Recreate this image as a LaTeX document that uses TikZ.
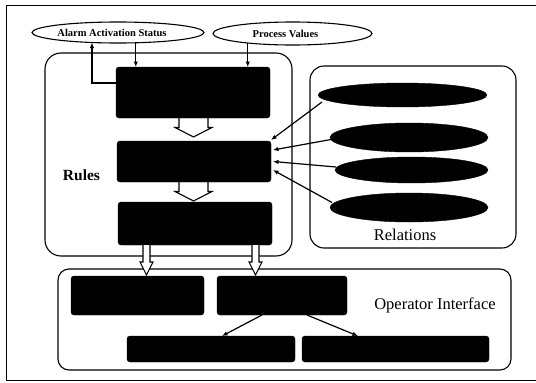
\documentclass[tikz,border=0pt]{standalone}
\usepackage{fontspec}
\setmainfont{Liberation Serif}
\usetikzlibrary{shapes.geometric,arrows.meta,calc}
\newcommand\hollowarr[6]{%
  \draw[hollow] ({#1-#5},#2) -- ({#1-#5},#3) -- ({#1-#6},#3) -- (#1,#4) -- ({#1+#6},#3) -- ({#1+#5},#3) -- ({#1+#5},#2);}
\begin{document}
\begin{tikzpicture}[x=1pt,y=-1pt,
  blk/.style={draw=black, fill=black, rounded corners=3pt, inner sep=0pt, outer sep=0pt},
  grp/.style={draw, line width=1.1pt, inner sep=0pt, outer sep=0pt},
  conn/.style={line width=1.2pt, -{Latex[length=5.5pt,width=4.5pt]}},
  oval/.style={ellipse, draw, line width=1.1pt, inner sep=0pt, outer sep=0pt},
  boval/.style={ellipse, draw=black, fill=black, inner sep=0pt, outer sep=0pt},
  hollow/.style={draw, fill=white, line width=1.1pt, line join=miter},
  small/.style={font=\fontsize{10.5}{12}\selectfont\bfseries},
  big/.style={font=\fontsize{16.5}{19}\selectfont, inner sep=0pt, anchor=base}]
\useasboundingbox (0,0) rectangle (536,383);
% outer frame
\draw[line width=1pt] (536,5) -- (6,5) -- (6,380) -- (536,380);
% containers
\node[grp, rounded corners=16pt, minimum width=247pt, minimum height=203pt] (rules) at (168.5,154.5) {};
\node[grp, rounded corners=14pt, minimum width=206pt, minimum height=182pt] (relbox) at (413,157) {};
\node[grp, rounded corners=11pt, minimum width=453pt, minimum height=101pt] (oibox) at (284.5,319.5) {};
% hollow arrows
\hollowarr{193.5}{118}{127.5}{137}{14.5}{18.5}
\hollowarr{193.5}{182}{191.5}{201}{14.5}{18.5}
% top ellipses
\node[oval, small, minimum width=172pt, minimum height=21pt] (alarm) at (118,32.5) {Alarm Activation Status\hspace*{12pt}};
\node[oval, small, minimum width=159pt, minimum height=23pt] (process) at (292.5,33.5) {Process Values\hspace*{14pt}};
% rule boxes
\node[blk, minimum width=154pt, minimum height=51pt] (b1) at (193,92.5) {};
\node[blk, minimum width=154pt, minimum height=41pt] (b2) at (194,161.5) {};
\node[blk, minimum width=154pt, minimum height=43pt] (b3) at (195,223.5) {};
% relation ellipses
\node[boval, minimum width=169pt, minimum height=24pt] (e1) at (402.5,95) {};
\node[boval, minimum width=158pt, minimum height=29pt] (e2) at (409,137.5) {};
\node[boval, minimum width=153pt, minimum height=26pt] (e3) at (411.5,170) {};
\node[boval, minimum width=158pt, minimum height=29pt] (e4) at (409,207.5) {};
% operator interface boxes
\node[blk, minimum width=133pt, minimum height=39pt] (oi1) at (137.5,295.5) {};
\node[blk, minimum width=130pt, minimum height=39pt] (oi2) at (282,295.5) {};
\node[blk, minimum width=168pt, minimum height=26pt] (oi3) at (211,349) {};
\node[blk, minimum width=187pt, minimum height=26pt] (oi4) at (395.5,349) {};
% hollow arrows to operator interface
\hollowarr{146.5}{245}{262}{275}{3.5}{6.5}
\hollowarr{255.5}{245}{262}{275}{3.5}{6.5}
% labels
\node[big, font=\fontsize{15.5}{18}\selectfont\bfseries] (lrules) at (81.5,180) {Rules};
\node[big] (lrel) at (405,240) {Relations};
\node[big] (loi) at (435,309) {Operator Interface};
% connectors top
\draw[conn] ([yshift=9.5pt]b1.west) -| (alarm.201);
\draw[conn] (alarm.330) -- (alarm.330 |- b1.north);
\draw[conn] (process.192) -- (process.192 |- b1.north);
% relations to rule box
\draw[conn] ([shift={(4,7)}]e1.west) -- ([shift={(0,-1)}]b2.north east);
\draw[conn] ([shift={(1,2)}]e2.west) -- ([shift={(2,-11.5)}]b2.east);
\draw[conn] ([shift={(1,-3)}]e3.west) -- ([shift={(2,0)}]b2.east);
\draw[conn] ([shift={(2,-5)}]e4.west) -- ([shift={(2,8.5)}]b2.east);
% operator interface arrows
\draw[conn] ([shift={(-20,0)}]oi2.south) -- ([shift={(11,0)}]oi3.north);
\draw[conn] ([shift={(25,0)}]oi2.south) -- ([shift={(-37.5,0)}]oi4.north);
\end{tikzpicture}
\end{document}
